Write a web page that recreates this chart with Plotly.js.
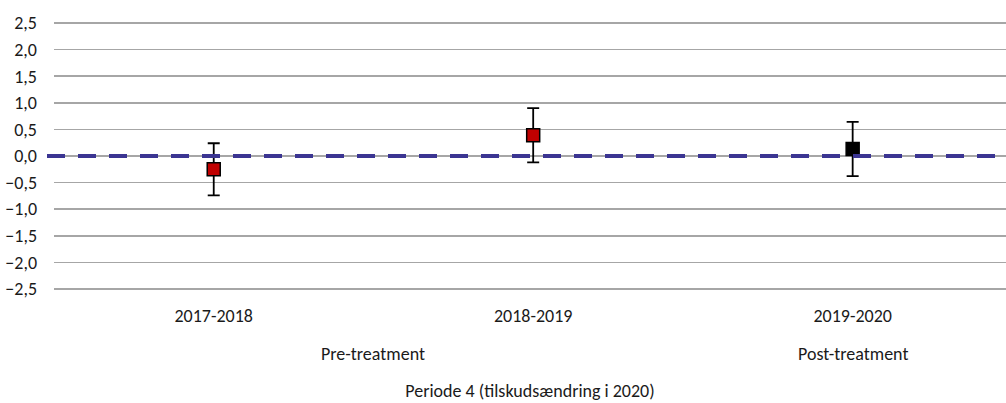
<!DOCTYPE html>
<html>
<head>
<meta charset="utf-8">
<script src="https://cdn.plot.ly/plotly-3.0.1.min.js"></script>
<style>html,body{margin:0;padding:0;background:#fff;}#chart{width:1006px;height:403px;}</style>
</head>
<body>
<div id="chart"></div>
<script>
const categories = ['2017-2018', '2018-2019', '2019-2020'];
const estimates = [-0.25, 0.39, 0.13];
const errors = [0.49, 0.51, 0.51];
const markerColors = ['#C00000', '#C00000', '#000000'];
const groupLabels = ['Pre-treatment', 'Post-treatment'];
const groupPositions = [0.5, 2];
const yTicks = [-2.5, -2.0, -1.5, -1.0, -0.5, 0, 0.5, 1.0, 1.5, 2.0, 2.5];
const axisTitle = 'Periode 4 (tilskudsændring i 2020)';

const font = "Carlito, Lato, sans-serif";
const fs = 18;
const txt = '#1a1a1a';

const trace = {
  x: categories,
  y: estimates,
  type: 'scatter',
  mode: 'markers',
  marker: {symbol: 'square', size: 13, color: markerColors, line: {color: '#000', width: 1.5}},
  error_y: {type: 'data', array: errors, visible: true, color: '#000', thickness: 1.8, width: 6},
  hoverinfo: 'x+y',
  showlegend: false
};

const layout = {
  width: 1006, height: 403,
  margin: {l: 54, r: 0, t: 22, b: 113},
  paper_bgcolor: '#fff', plot_bgcolor: '#fff',
  font: {family: font, size: fs, color: txt},
  separators: ',.',
  xaxis: {
    type: 'category',
    range: [-0.5, 2.48],
    showgrid: false, zeroline: false, showline: false,
    ticks: '', ticklabelstandoff: 13,
    tickfont: {family: font, size: fs, color: txt},
    title: {text: axisTitle, standoff: 58, font: {family: font, size: fs, color: txt}},
    fixedrange: true
  },
  yaxis: {
    range: [-2.52, 2.52],
    tickvals: yTicks,
    tickformat: '.1f',
    showgrid: true, gridcolor: '#a6a6a6', gridwidth: 1.6,
    zeroline: true, zerolinecolor: '#a6a6a6', zerolinewidth: 1.6,
    showline: false, ticks: '', ticklabelstandoff: 16,
    tickfont: {family: font, size: fs, color: txt},
    fixedrange: true
  },
  shapes: [{
    type: 'line', xref: 'paper', yref: 'y',
    x0: -7 / 952, x1: 1, y0: 0, y1: 0,
    layer: 'above',
    line: {color: '#3b3592', width: 4, dash: '18px,13px'}
  }],
  annotations: groupLabels.map((t, i) => ({
    text: t, x: groupPositions[i], xref: 'x', y: -0.239, yref: 'paper',
    showarrow: false, xanchor: 'center', yanchor: 'middle',
    font: {family: font, size: fs, color: txt}
  }))
};

Plotly.newPlot('chart', [trace], layout, {displayModeBar: false, staticPlot: true});
</script>
</body>
</html>
